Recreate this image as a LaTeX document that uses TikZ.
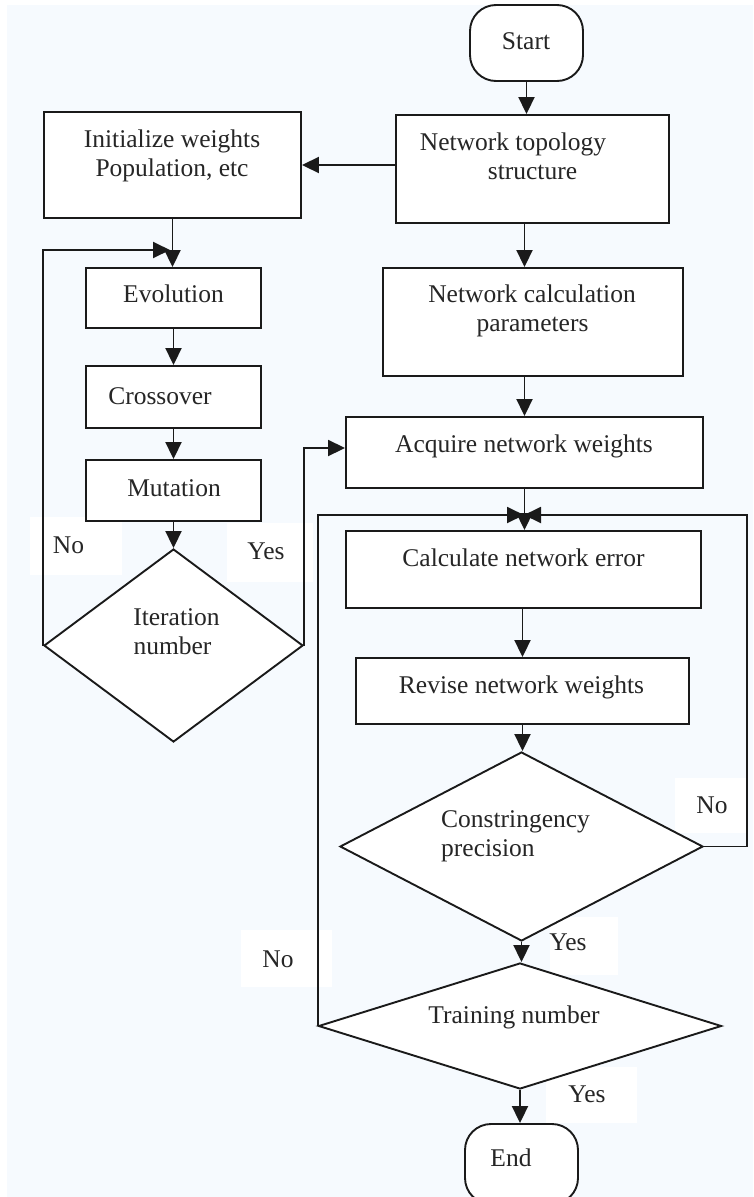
\documentclass[tikz,border=0pt]{standalone}
\usepackage{fontspec}
\setmainfont{Liberation Serif}
\usetikzlibrary{shapes.geometric,arrows.meta,calc}
\definecolor{bgblue}{HTML}{F6FAFE}
\definecolor{ink}{HTML}{1A1A1A}
\definecolor{txtc}{HTML}{262626}
\begin{document}
\begin{tikzpicture}[x=1pt,y=-1pt,
  box/.style={draw=ink, fill=white, line width=1.9pt, inner sep=0pt},
  term/.style={box, rounded corners=26pt},
  decision/.style={box, diamond},
  lblbg/.style={fill=white, inner sep=0pt},
  txt/.style={text=txtc, font=\fontsize{25.5}{30}\selectfont, inner sep=0pt, anchor=base},
  arr/.style={draw=ink, line width=1.9pt, -{Triangle[length=17pt,width=16pt]}},
]
\useasboundingbox (0,0) rectangle (754,1197);
\clip (0,0) rectangle (754,1197);
% page background
\fill[white] (0,0) rectangle (754,1197);
\fill[bgblue] (7,5) rectangle (753,1197);

% white patches behind the branch labels
\node[lblbg, minimum width=92pt, minimum height=58pt] (bgno1) at (76,546) {};
\node[lblbg, minimum width=86pt, minimum height=59pt] (bgyes1) at (270,552.5) {};
\node[lblbg, minimum width=71pt, minimum height=55pt] (bgno2) at (710.5,805.5) {};
\node[lblbg, minimum width=68pt, minimum height=58pt] (bgyes2) at (584,946) {};
\node[lblbg, minimum width=91pt, minimum height=57pt] (bgno3) at (286.5,958.5) {};
\node[lblbg, minimum width=91pt, minimum height=56pt] (bgyes3) at (591.5,1095) {};

% flowchart shapes
\node[term, minimum width=113pt, minimum height=76pt] (start) at (526.5,43) {};
\node[box, minimum width=273pt, minimum height=108pt] (topo) at (532.5,169) {};
\node[box, minimum width=257pt, minimum height=106pt] (init) at (172.5,165) {};
\node[box, minimum width=175pt, minimum height=60pt] (evo) at (173.5,298) {};
\node[box, minimum width=175pt, minimum height=62pt] (cross) at (173.5,397) {};
\node[box, minimum width=175pt, minimum height=61pt] (mut) at (173.5,490.5) {};
\node[decision, minimum width=259pt, minimum height=193pt] (iter) at (173.5,645.5) {};
\node[box, minimum width=300pt, minimum height=108pt] (calc) at (533,322) {};
\node[box, minimum width=357pt, minimum height=71pt] (acq) at (524.5,452.5) {};
\node[box, minimum width=355pt, minimum height=77pt] (err) at (523.5,569.5) {};
\node[box, minimum width=333pt, minimum height=66pt] (rev) at (522.5,691) {};
\node[decision, minimum width=363pt, minimum height=189pt] (cons) at (521.5,846.5) {};
\node[decision, minimum width=403pt, minimum height=126pt] (train) at (520,1026) {};
\node[term, minimum width=113pt, minimum height=80pt] (end) at (521.5,1164) {};

% texts
\node[txt] (tstart) at (526,49) {Start};
\node[txt] (ttopo1) at (513,150) {Network topology};
\node[txt] (ttopo2) at (532.5,179) {structure};
\node[txt] (tinit1) at (172,147) {Initialize weights};
\node[txt] (tinit2) at (172,176) {Population, etc};
\node[txt] (tevo) at (173.5,302) {Evolution};
\node[txt] (tcross) at (160,404) {Crossover};
\node[txt] (tmut) at (174,496) {Mutation};
\node[txt] (titer1) at (176.5,625) {Iteration};
\node[txt] (titer2) at (172.5,654) {number};
\node[txt] (tcalc1) at (532,302) {Network calculation};
\node[txt] (tcalc2) at (532.5,331) {parameters};
\node[txt] (tacq) at (524,452) {Acquire network weights};
\node[txt] (terr) at (523.5,566) {Calculate network error};
\node[txt] (trev) at (521.5,693) {Revise network weights};
\node[txt, anchor=base west] (tcons1) at (441,827) {Constringency};
\node[txt, anchor=base west] (tcons2) at (441,856) {precision};
\node[txt] (ttrain) at (514,1023) {Training number};
\node[txt] (tend) at (511,1166) {End};
\node[txt] (lno1) at (68.5,553) {No};
\node[txt] (lyes1) at (266,559) {Yes};
\node[txt] (lno2) at (712,813) {No};
\node[txt] (lyes2) at (568,950) {Yes};
\node[txt] (lno3) at (278,967) {No};
\node[txt] (lyes3) at (587,1102) {Yes};

% junction points of the loops
\coordinate (lloop) at (170,250);
\coordinate (merge) at (524,515);
\coordinate (rloop) at (747,515);

% connectors
\draw[arr] (start.south) -- (start.south |- topo.north);
\draw[arr] (topo.west |- init.east) -- (init.east);
\draw[arr] (init.south) -- (init.south |- evo.north);
\draw[arr] (evo.south) -- (evo.south |- cross.north);
\draw[arr] (cross.south) -- (cross.south |- mut.north);
\draw[arr] (mut.south) -- (mut.south |- iter.north);
\draw[arr] (iter.west) |- (lloop);
\draw[arr] (iter.east) |- ($(acq.west)+(0,-4.5)$);
\draw[arr] (topo.south -| acq.north) -- (calc.north -| acq.north);
\draw[arr] (calc.south -| acq.north) -- (acq.north);
\draw[arr] (acq.south) -- (acq.south |- err.north);
\draw[arr] (err.south -| rev.north) -- (rev.north);
\draw[arr] (rev.south) -- (rev.south |- cons.north);
\draw[arr] (cons.east) -| (rloop) -- (merge);
\draw[arr] (cons.south) -- (cons.south |- train.north);
\draw[arr] (train.west) |- (merge);
\draw[arr] (train.south) -- (train.south |- end.north);
\end{tikzpicture}
\end{document}
